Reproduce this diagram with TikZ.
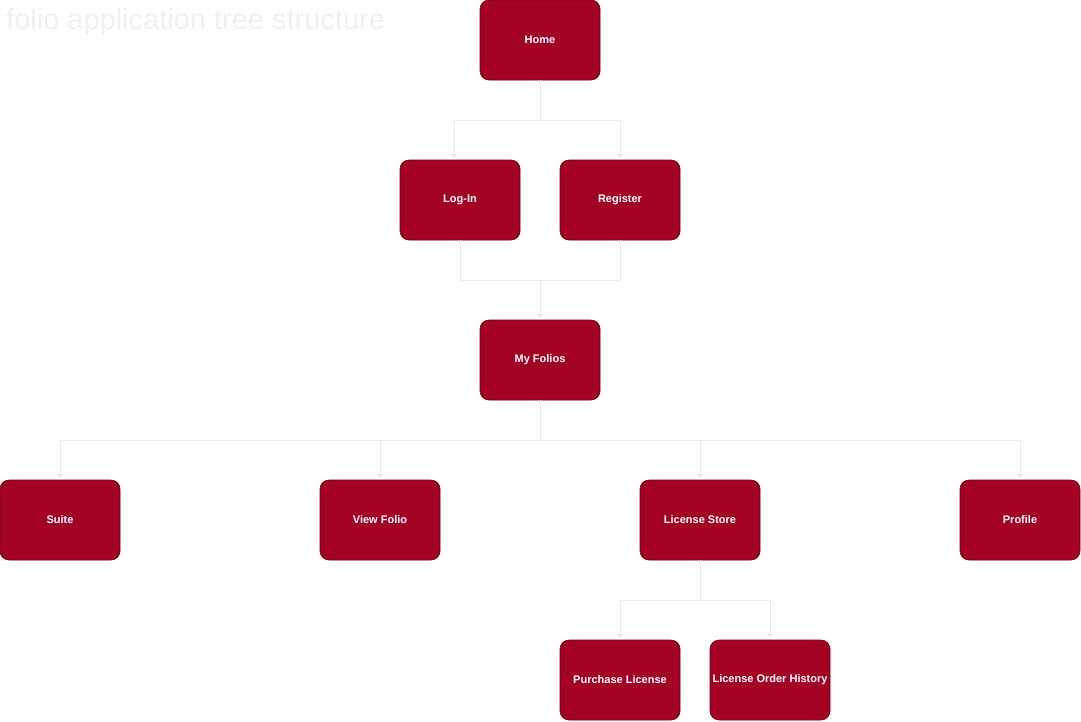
\documentclass[tikz,border=0pt]{standalone}
\usepackage{fontspec}
\setmainfont{Liberation Sans}
\usetikzlibrary{arrows.meta}
\definecolor{boxfill}{HTML}{A20025}
\definecolor{boxline}{HTML}{6F0000}
\definecolor{edgec}{HTML}{EBEBEB}
\definecolor{titlec}{HTML}{F0F0F0}
\begin{document}
\begin{tikzpicture}[x=1pt,y=-1pt,
  box/.style={draw=boxline,fill=boxfill,rounded corners=9pt,minimum width=120pt,minimum height=80pt,
    inner sep=0pt,text=white,font=\bfseries\fontsize{11}{13}\selectfont,line width=0.6pt},
  edge/.style={draw=edgec,line width=0.9pt,-{Latex[length=6pt,width=6pt]}},
  seg/.style={draw=edgec,line width=0.9pt}]
\useasboundingbox (0,0) rectangle (1081,721);
\node[anchor=base west,text=titlec,font=\fontsize{29}{32}\selectfont,inner sep=0pt] (title) at (6,29) {folio application tree structure};
\node[box] (home) at (540,40) {Home};
\node[box] (login) at (460,200) {Log-In};
\node[box] (reg) at (620,200) {Register};
\node[box] (my) at (540,360) {My Folios};
\node[box] (suite) at (60,520) {Suite};
\node[box] (view) at (380,520) {View Folio};
\node[box] (store) at (700,520) {License Store};
\node[box] (prof) at (1020,520) {Profile};
\node[box] (buy) at (620,680) {Purchase License};
\node[box] (hist) at (770,680) {License Order History};
% Home -> Log-In, Register
\coordinate (hb) at (540,120);
\draw[seg] (home.south) -- (hb);
\draw[edge] (hb) -| ([xshift=-6pt]login.north);
\draw[edge] (hb) -| (reg.north);
% Log-In, Register -> My Folios
\coordinate (lb) at (540,280);
\draw[seg] (login.south) |- (lb);
\draw[seg] (reg.south) |- (lb);
\draw[edge] (lb) -- (my.north);
% My Folios -> children
\coordinate (mb) at (540,440);
\draw[seg] (my.south) -- (mb);
\draw[edge] (mb) -| (suite.north);
\draw[edge] (mb) -| (view.north);
\draw[edge] (mb) -| (store.north);
\draw[edge] (mb) -| (prof.north);
% License Store -> children
\coordinate (sb) at (700,600);
\draw[seg] (store.south) -- (sb);
\draw[edge] (sb) -| (buy.north);
\draw[edge] (sb) -| (hist.north);
\end{tikzpicture}
\end{document}
